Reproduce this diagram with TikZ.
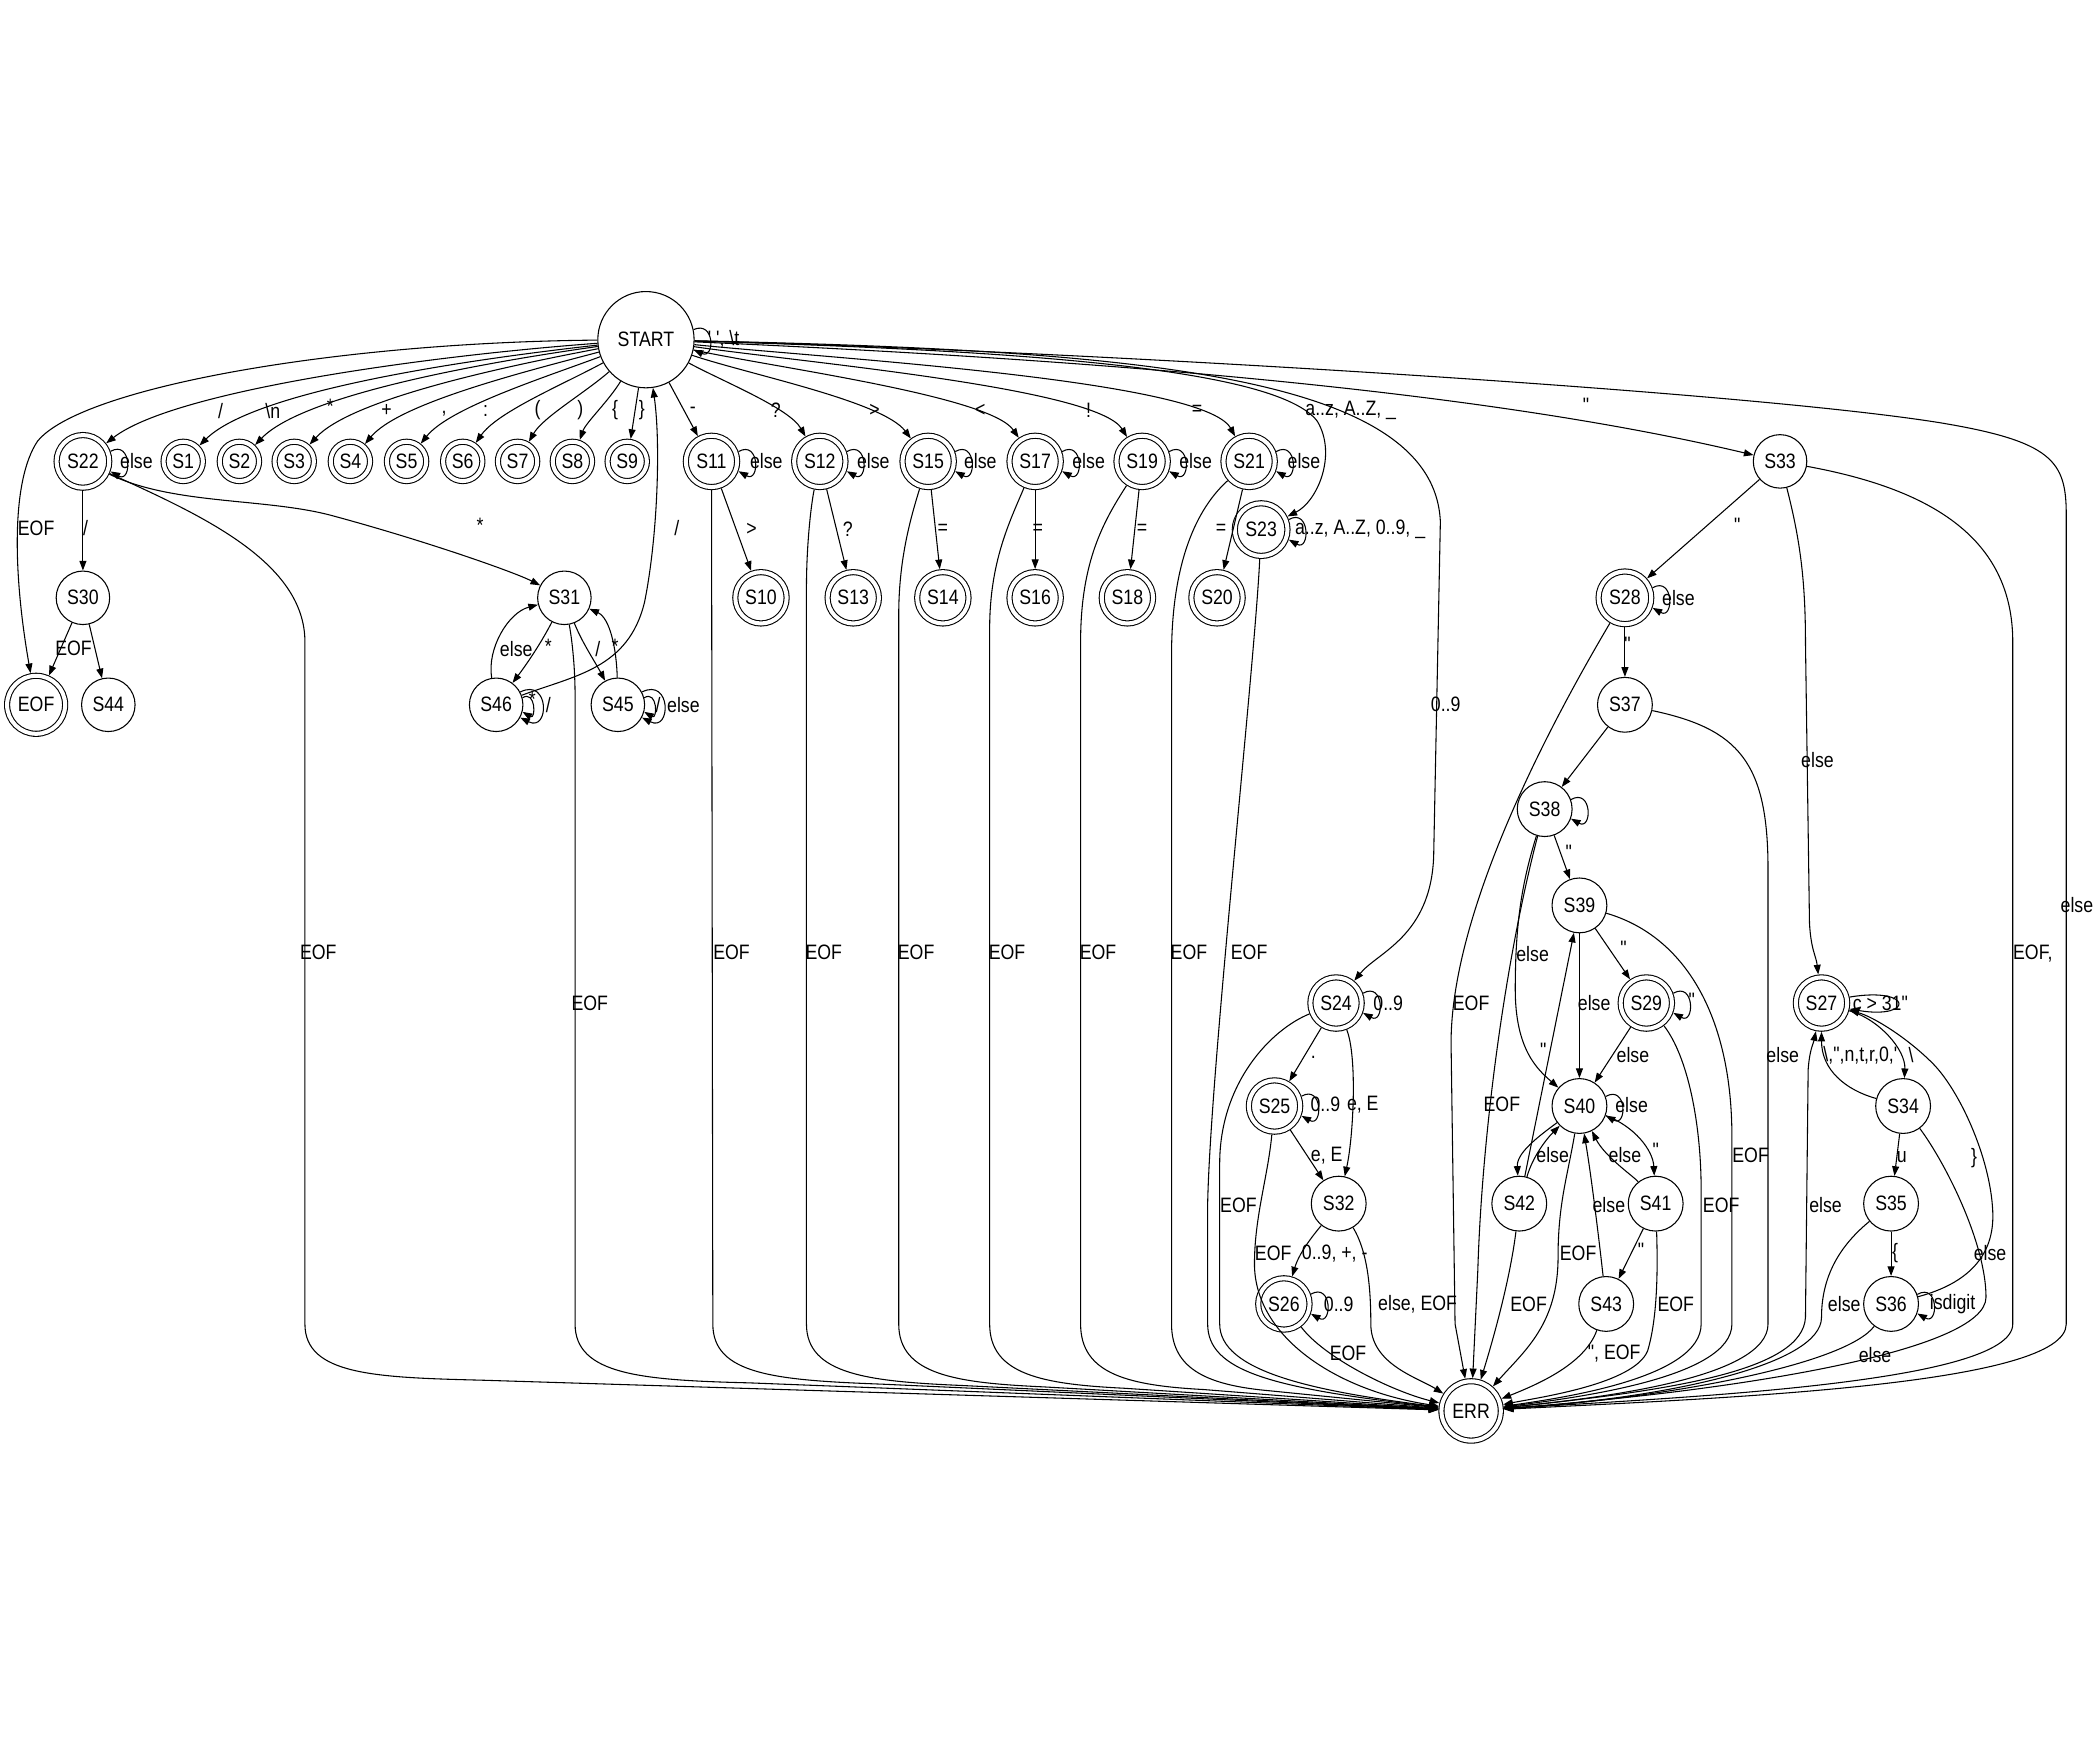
\documentclass[tikz,border=0pt]{standalone}
\usepackage{fontspec}
\newfontfamily\lf[FakeStretch=0.85]{Liberation Sans}
\usetikzlibrary{arrows.meta}
\newcommand{\sloop}[1]{\draw[edg] (#1.20) .. controls +(16,-9) and +(16,9) .. (#1.-20);}
\begin{document}
\begin{tikzpicture}[x=0.5pt,y=-0.5pt,
  font=\lf\fontsize{7.8}{9}\selectfont,
  sst/.style={circle,draw,line width=0.4pt,inner sep=0pt,minimum size=#1},
  sst/.default=20.5pt,
  acc/.style={circle,draw,line width=0.4pt,double,double distance=1.5pt,inner sep=0pt,minimum size=#1,outer sep=1.15pt},
  acc/.default=19.2pt,
  edg/.style={line width=0.4pt,-{Stealth[length=3.6pt,width=2.6pt,inset=0pt]}},
  elab/.style={inner sep=0.5pt}]
\useasboundingbox (0,0) rectangle (1568,1300);
% ---------- nodes ----------
\node[sst=36pt] (START) at (483,254) {START};
\node[acc=19.7pt] (S22) at (62,345) {S22};
\node[acc=14.7pt] (S1) at (137,345) {S1};
\node[acc=14.7pt] (S2) at (179,345) {S2};
\node[acc=14.7pt] (S3) at (220,345) {S3};
\node[acc=14.7pt] (S4) at (262,345) {S4};
\node[acc=14.7pt] (S5) at (304,345) {S5};
\node[acc=14.7pt] (S6) at (346,345) {S6};
\node[acc=14.7pt] (S7) at (387,345) {S7};
\node[acc=14.7pt] (S8) at (428,345) {S8};
\node[acc=14.7pt] (S9) at (469,345) {S9};
\node[acc] (S11) at (532,345) {S11};
\node[acc] (S12) at (613,345) {S12};
\node[acc] (S15) at (694,345) {S15};
\node[acc] (S17) at (774,345) {S17};
\node[acc] (S19) at (854,345) {S19};
\node[acc] (S21) at (934,345) {S21};
\node[acc=19.7pt] (S23) at (943,396) {S23};
\node[sst=20pt] (S33) at (1331,345) {S33};
\node[sst=20pt] (S30) at (62,447) {S30};
\node[sst=20pt] (S31) at (422,447) {S31};
\node[acc] (S10) at (569,447) {S10};
\node[acc] (S13) at (638,447) {S13};
\node[acc] (S14) at (705,447) {S14};
\node[acc] (S16) at (774,447) {S16};
\node[acc] (S18) at (843,447) {S18};
\node[acc] (S20) at (910,447) {S20};
\node[acc=19.7pt] (S28) at (1215,447) {S28};
\node[acc=21.7pt] (EOFn) at (27,527) {EOF};
\node[sst=20pt] (S44) at (81,527) {S44};
\node[sst=20pt] (S46) at (371,527) {S46};
\node[sst=20pt] (S45) at (462,527) {S45};
\node[sst] (S37) at (1215,527) {S37};
\node[sst] (S38) at (1155,605) {S38};
\node[sst] (S39) at (1181,677) {S39};
\node[acc] (S29) at (1231,750) {S29};
\node[acc] (S24) at (999,750) {S24};
\node[acc] (S27) at (1362,750) {S27};
\node[sst] (S40) at (1181,827) {S40};
\node[acc] (S25) at (953,827) {S25};
\node[sst] (S34) at (1423,827) {S34};
\node[sst] (S32) at (1001,900) {S32};
\node[sst] (S42) at (1136,900) {S42};
\node[sst] (S41) at (1238,900) {S41};
\node[sst] (S35) at (1414,900) {S35};
\node[acc] (S26) at (960,975) {S26};
\node[sst] (S43) at (1201,975) {S43};
\node[sst] (S36) at (1414,975) {S36};
\node[acc=22.2pt] (ERR) at (1100,1055) {ERR};
% ---------- START edges ----------
\draw[edg] (START.12) .. controls +(16,-7) and +(16,7) .. (START.-12);
\draw[edg] (START) .. controls (320,266) and (130,292) .. (S22);
\draw[edg] (START) .. controls (340,270) and (190,293) .. (S1);
\draw[edg] (START) .. controls (355,272) and (226,296) .. (S2);
\draw[edg] (START) .. controls (372,275) and (262,299) .. (S3);
\draw[edg] (START) .. controls (388,279) and (298,302) .. (S4);
\draw[edg] (START) .. controls (405,283) and (336,305) .. (S5);
\draw[edg] (START) .. controls (420,288) and (372,308) .. (S6);
\draw[edg] (START) .. controls (437,294) and (406,312) .. (S7);
\draw[edg] (START) .. controls (455,300) and (438,316) .. (S8);
\draw[edg] (START) -- (S9);
\draw[edg] (START) -- (S11);
\draw[edg] (START) .. controls (540,285) and (590,305) .. (S12);
\draw[edg] (START) .. controls (560,280) and (660,300) .. (S15);
\draw[edg] (START) .. controls (580,275) and (740,296) .. (S17);
\draw[edg] (START) .. controls (600,271) and (820,290) .. (S19);
\draw[edg] (START) .. controls (620,268) and (900,284) .. (S21);
\draw[edg] (START) .. controls (760,262) and (955,275) .. (985,315) .. controls (1000,340) and (985,375) .. (S23);
\draw[edg] (START) .. controls (850,262) and (1072,280) .. (1077,390) -- (1072,640) .. controls (1070,700) and (1030,712) .. (S24);
\draw[edg] (START) .. controls (800,268) and (1100,290) .. (S33);
\draw[edg] (START) .. controls (800,262) and (1300,292) .. (1450,316) .. controls (1535,330) and (1545,345) .. (1545,385) -- (1545,990) .. controls (1545,1035) and (1300,1045) .. (ERR);
\draw[edg] (START) .. controls (250,256) and (60,290) .. (28,330) .. controls (8,360) and (10,430) .. (EOFn);
\draw[edg] (S46) .. controls (430,505) and (470,500) .. (482,450) .. controls (492,400) and (494,330) .. (START);
% ---------- S22 / comments ----------
\sloop{S22}
\draw[edg] (S22) -- (S30);
\draw[edg] (S22) .. controls (130,378) and (200,372) .. (250,386) .. controls (320,405) and (385,428) .. (S31);
\draw[edg] (S22) .. controls (150,385) and (228,420) .. (228,480) -- (228,990) .. controls (228,1028) and (280,1030) .. (360,1032) -- (ERR);
\draw[edg] (S30) -- (EOFn);
\draw[edg] (S30) -- (S44);
\draw[edg] (S31) .. controls (428,480) and (430,500) .. (430,520) -- (430,990) .. controls (430,1028) and (480,1032) .. (560,1034) -- (ERR);
\draw[edg] (S31) .. controls (405,480) and (395,495) .. (S46);
\draw[edg] (S46) .. controls (364,485) and (380,458) .. (S31);
\draw[edg] (S31) .. controls (435,480) and (445,495) .. (S45);
\draw[edg] (S45) .. controls (461,485) and (456,462) .. (S31);
\draw[edg] (S46.15) .. controls +(10,-6) and +(10,6) .. (S46.-15);
\draw[edg] (S46.28) .. controls +(22,-11) and +(22,11) .. (S46.-28);
\draw[edg] (S45.15) .. controls +(10,-6) and +(10,6) .. (S45.-15);
\draw[edg] (S45.28) .. controls +(22,-11) and +(22,11) .. (S45.-28);
% ---------- operator states ----------
\sloop{S11}\sloop{S12}\sloop{S15}\sloop{S17}\sloop{S19}\sloop{S21}
\draw[edg] (S23.20) .. controls +(16,-9) and +(16,9) .. (S23.-20);
\draw[edg] (S11) -- (S10);
\draw[edg] (S12) -- (S13);
\draw[edg] (S15) -- (S14);
\draw[edg] (S17) -- (S16);
\draw[edg] (S19) -- (S18);
\draw[edg] (S21) -- (S20);
\draw[edg] (S11) -- (533,990) .. controls (533,1028) and (580,1032) .. (660,1035) -- (ERR);
\draw[edg] (S12) .. controls (606,380) and (603,410) .. (603,440) -- (603,990) .. controls (603,1028) and (650,1033) .. (720,1036) -- (ERR);
\draw[edg] (S15) .. controls (680,390) and (672,420) .. (672,460) -- (672,990) .. controls (672,1028) and (715,1034) .. (780,1037) -- (ERR);
\draw[edg] (S17) .. controls (755,390) and (740,420) .. (740,470) -- (740,990) .. controls (740,1028) and (780,1035) .. (840,1038) -- (ERR);
\draw[edg] (S19) .. controls (825,390) and (808,420) .. (808,480) -- (808,990) .. controls (808,1028) and (845,1036) .. (900,1039) -- (ERR);
\draw[edg] (S21) .. controls (895,380) and (876,420) .. (876,490) -- (876,990) .. controls (876,1025) and (905,1036) .. (950,1040) -- (ERR);
\draw[edg] (S23) .. controls (938,500) and (905,800) .. (903,900) -- (903,990) .. controls (903,1025) and (950,1038) .. (ERR);
% ---------- numbers ----------
\sloop{S24}\sloop{S25}\sloop{S26}
\draw[edg] (S24) -- (S25);
\draw[edg] (S24) .. controls (1015,790) and (1012,850) .. (S32);
\draw[edg] (S24) .. controls (950,770) and (912,810) .. (912,870) -- (912,990) .. controls (912,1025) and (980,1040) .. (ERR);
\draw[edg] (S25) -- (S32);
\draw[edg] (S25) .. controls (948,880) and (938,910) .. (938,945) .. controls (938,1000) and (1000,1040) .. (ERR);
\draw[edg] (S32) .. controls (985,920) and (972,935) .. (S26);
\draw[edg] (S32) .. controls (1022,935) and (1025,960) .. (1025,990) .. controls (1025,1020) and (1060,1030) .. (ERR);
\draw[edg] (S26) .. controls (990,1015) and (1040,1040) .. (ERR);
% ---------- strings ----------
\draw[edg] (S33) -- (S28);
\draw[edg] (S33) .. controls (1345,400) and (1350,430) .. (1350,480) -- (1353,690) .. controls (1354,710) and (1358,715) .. (S27);
\draw[edg] (S33) .. controls (1440,365) and (1505,400) .. (1505,480) -- (1505,990) .. controls (1505,1035) and (1250,1045) .. (ERR);
\sloop{S28}
\draw[edg] (S28) -- (S37);
\draw[edg] (S28) .. controls (1160,540) and (1085,680) .. (1085,780) -- (1088,990) -- (ERR);
\draw[edg] (S37) -- (S38);
\draw[edg] (S37) .. controls (1300,545) and (1322,570) .. (1322,650) -- (1322,990) .. controls (1322,1030) and (1200,1045) .. (ERR);
\sloop{S38}
\draw[edg] (S38) -- (S39);
\draw[edg] (S38) .. controls (1138,660) and (1133,690) .. (1133,740) .. controls (1133,785) and (1150,800) .. (S40);
\draw[edg] (S38) .. controls (1125,720) and (1108,850) .. (1105,950) -- (ERR);
\draw[edg] (S39) -- (S29);
\draw[edg] (S39) -- (S40);
\draw[edg] (S39) .. controls (1260,700) and (1295,760) .. (1295,850) -- (1295,990) .. controls (1295,1030) and (1180,1045) .. (ERR);
\sloop{S29}
\draw[edg] (S29) -- (S40);
\draw[edg] (S29) .. controls (1262,790) and (1272,840) .. (1272,890) -- (1272,990) .. controls (1272,1030) and (1170,1045) .. (ERR);
\sloop{S40}
\draw[edg] (S40) .. controls (1222,842) and (1236,860) .. (S41);
\draw[edg] (S40) .. controls (1150,850) and (1134,862) .. (S42);
\draw[edg] (S42) .. controls (1146,865) and (1156,852) .. (S40);
\draw[edg] (S42) -- (S39);
\draw[edg] (S40) .. controls (1172,880) and (1165,900) .. (1165,940) .. controls (1165,990) and (1140,1010) .. (ERR);
\draw[edg] (S42) .. controls (1130,950) and (1120,990) .. (ERR);
\draw[edg] (S41) .. controls (1222,880) and (1200,865) .. (S40);
\draw[edg] (S41) -- (S43);
\draw[edg] (S41) .. controls (1240,960) and (1238,990) .. (1232,1010) .. controls (1222,1035) and (1150,1045) .. (ERR);
\draw[edg] (S43) .. controls (1196,930) and (1190,880) .. (S40);
\draw[edg] (S43) .. controls (1185,1020) and (1150,1035) .. (ERR);
% ---------- escapes ----------
\draw[edg] (S27.12) .. controls +(48,-8) and +(48,8) .. (S27.-12);
\draw[edg] (S27) .. controls (1405,762) and (1425,785) .. (S34);
\draw[edg] (S34) .. controls (1380,815) and (1362,800) .. (S27);
\draw[edg] (S34) -- (S35);
\draw[edg] (S34) .. controls (1455,870) and (1485,930) .. (1485,970) .. controls (1485,1010) and (1300,1040) .. (ERR);
\draw[edg] (S35) -- (S36);
\draw[edg] (S35) .. controls (1375,932) and (1362,955) .. (1362,985) .. controls (1362,1020) and (1250,1045) .. (ERR);
\sloop{S36}
\draw[edg] (S36) .. controls (1470,960) and (1492,940) .. (1490,905) .. controls (1488,865) and (1465,815) .. (1445,795) .. controls (1425,775) and (1400,760) .. (S27);
\draw[edg] (S36) .. controls (1380,1020) and (1250,1045) .. (ERR);
\draw[edg] (ERR) .. controls (1250,1040) and (1348,1025) .. (1350,985) -- (1352,800) .. controls (1353,785) and (1356,780) .. (S27);
% ---------- labels ----------
\node[elab] (l1) at (165,307) {/};
\node[elab] (l2) at (204,307) {\textbackslash n};
\node[elab] (l3) at (247,304) {*};
\node[elab] (l4) at (289,307) {+};
\node[elab] (l5) at (332,309) {,};
\node[elab] (l6) at (363,307) {:};
\node[elab] (l7) at (402,307) {(};
\node[elab] (l8) at (434,307) {)};
\node[elab] (l9) at (460,307) {\{};
\node[elab] (l10) at (480,307) {\}};
\node[elab] (l11) at (518,307) {-};
\node[elab] (l12) at (580,307) {?};
\node[elab] (l13) at (654,307) {>};
\node[elab] (l14) at (733,307) {<};
\node[elab] (l15) at (814,307) {!};
\node[elab] (l16) at (895,307) {=};
\node[elab] (l17) at (1010,307) {a..z, A..Z, \_};
\node[elab] (l18) at (1186,303) {"};
\node[elab] (l19) at (1081,527) {0..9};
\node[elab] (l20) at (27,395) {EOF};
\node[elab] (l21) at (1553,677) {else};
\node[elab] (l22) at (541,254) {' ', \textbackslash t};
\node[elab] (l23) at (102,345) {else};
\node[elab] (l24) at (573,345) {else};
\node[elab] (l25) at (653,345) {else};
\node[elab] (l26) at (733,345) {else};
\node[elab] (l27) at (814,345) {else};
\node[elab] (l28) at (894,345) {else};
\node[elab] (l29) at (975,345) {else};
\node[elab] (l30) at (562,396) {>};
\node[elab] (l31) at (634,396) {?};
\node[elab] (l32) at (705,396) {=};
\node[elab] (l33) at (776,396) {=};
\node[elab] (l34) at (854,396) {=};
\node[elab] (l35) at (913,396) {=};
\node[elab] (l36) at (1017,396) {a..z, A..Z, 0..9, \_};
\node[elab] (l37) at (64,395) {/};
\node[elab] (l38) at (359,393) {*};
\node[elab] (l39) at (238,712) {EOF};
\node[elab] (l40) at (547,712) {EOF};
\node[elab] (l41) at (616,712) {EOF};
\node[elab] (l42) at (685,712) {EOF};
\node[elab] (l43) at (753,712) {EOF};
\node[elab] (l44) at (821,712) {EOF};
\node[elab] (l45) at (889,712) {EOF};
\node[elab] (l46) at (934,712) {EOF};
\node[elab] (l47) at (441,750) {EOF};
\node[elab] (l48) at (55,485) {EOF};
\node[elab] (l49) at (386,485) {else};
\node[elab] (l50) at (410,483) {*};
\node[elab] (l51) at (447,485) {/};
\node[elab] (l52) at (460,483) {*};
\node[elab] (l53) at (506,395) {/};
\node[elab] (l54) at (398,523) {*};
\node[elab] (l55) at (410,527) {/};
\node[elab] (l56) at (492,527) {/};
\node[elab] (l57) at (511,527) {else};
% numbers
\node[elab] (l58) at (1038,750) {0..9};
\node[elab] (l59) at (982,791) {.};
\node[elab] (l60) at (1019,826) {e, E};
\node[elab] (l61) at (991,826) {0..9};
\node[elab] (l62) at (926,901) {EOF};
\node[elab] (l63) at (992,864) {e, E};
\node[elab] (l64) at (952,937) {EOF};
\node[elab] (l65) at (998,937) {0..9, +, -};
\node[elab] (l66) at (1001,975) {0..9};
\node[elab] (l67) at (1060,975) {else, EOF};
\node[elab] (l68) at (1008,1012) {EOF};
% strings
\node[elab] (l69) at (1299,393) {"};
\node[elab] (l70) at (1217,482) {"};
\node[elab] (l71) at (1255,447) {else};
\node[elab] (l72) at (1359,568) {else};
\node[elab] (l73) at (1520,713) {EOF,};
\node[elab] (l74) at (1173,637) {"};
\node[elab] (l75) at (1214,709) {"};
\node[elab] (l76) at (1100,750) {EOF};
\node[elab] (l77) at (1146,713) {else};
\node[elab] (l78) at (1123,826) {EOF};
\node[elab] (l79) at (1333,789) {else};
\node[elab] (l80) at (1192,750) {else};
\node[elab] (l81) at (1265,748) {"};
\node[elab] (l82) at (1221,789) {else};
\node[elab] (l83) at (1309,864) {EOF};
\node[elab] (l84) at (1287,901) {EOF};
\node[elab] (l85) at (1220,826) {else};
\node[elab] (l86) at (1154,785) {"};
\node[elab] (l87) at (1161,864) {else};
\node[elab] (l88) at (1215,864) {else};
\node[elab] (l89) at (1238,860) {"};
\node[elab] (l90) at (1203,901) {else};
\node[elab] (l91) at (1227,935) {"};
\node[elab] (l92) at (1180,937) {EOF};
\node[elab] (l93) at (1143,975) {EOF};
\node[elab] (l94) at (1253,975) {EOF};
\node[elab] (l95) at (1207,1012) {", EOF};
% escapes
\node[elab] (l96) at (1406,750) {c > 31"};
\node[elab] (l97) at (1391,789) {\textbackslash,",n,t,r,0,'};
\node[elab] (l98) at (1429,789) {\textbackslash};
\node[elab] (l99) at (1422,865) {u};
\node[elab] (l100) at (1476,866) {\}};
\node[elab] (l101) at (1417,937) {\{};
\node[elab] (l102) at (1488,937) {else};
\node[elab] (l103) at (1460,975) {isdigit};
\node[elab] (l104) at (1379,975) {else};
\node[elab] (l105) at (1402,1013) {else};
\node[elab] (l106) at (1365,901) {else};
\end{tikzpicture}
\end{document}
